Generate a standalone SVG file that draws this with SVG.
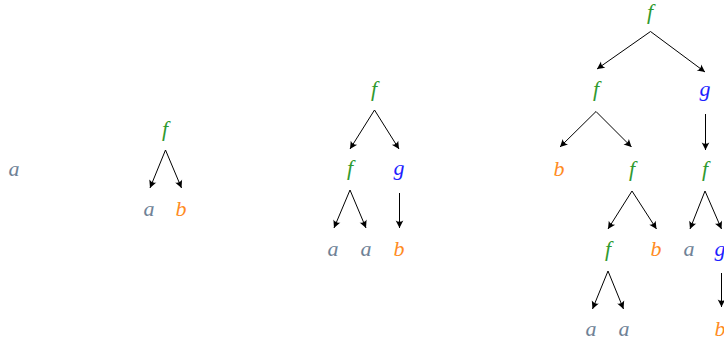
<svg xmlns="http://www.w3.org/2000/svg" width="724" height="341" viewBox="0 0 724 341">
<defs>
<marker id="ah" markerWidth="10" markerHeight="10" viewBox="-8 -5 9 10" refX="0" refY="0" orient="auto" markerUnits="userSpaceOnUse">
<path d="M0,0 L-7.5,-3.8 Q-4.8,0 -7.5,3.8 Z" fill="#000"/>
</marker>
<style>
.f{fill:#2f9a2f}.g{fill:#1f1fff}.b{fill:#ff8c1f}.a{fill:#6f8296}
#edges line{stroke:#000;stroke-width:1;marker-end:url(#ah)}
</style>
</defs>
<rect width="724" height="341" fill="#fff"/>
<g id="edges">
<line x1="165.5" y1="150" x2="150" y2="188"/>
<line x1="165.5" y1="150" x2="181.5" y2="188"/>
<line x1="374.5" y1="110" x2="350" y2="149"/>
<line x1="374.5" y1="110" x2="399" y2="149"/>
<line x1="350" y1="190" x2="334" y2="228"/>
<line x1="350" y1="190" x2="366" y2="228"/>
<line x1="399.5" y1="193" x2="399.5" y2="228"/>
<line x1="650.5" y1="31.5" x2="597" y2="69"/>
<line x1="650.5" y1="31.5" x2="705" y2="72"/>
<line x1="596" y1="111.5" x2="560" y2="147"/>
<line x1="596" y1="111.5" x2="631.5" y2="147"/>
<line x1="705.5" y1="114" x2="705.5" y2="150"/>
<line x1="632" y1="191" x2="608" y2="229"/>
<line x1="632" y1="191" x2="656.5" y2="229"/>
<line x1="705" y1="191" x2="690" y2="229"/>
<line x1="705" y1="191" x2="721.5" y2="229"/>
<line x1="608" y1="271" x2="592.5" y2="309"/>
<line x1="608" y1="271" x2="623.5" y2="309"/>
<line x1="721.5" y1="273" x2="721.5" y2="307"/>
</g>
<g font-family="Liberation Serif, DejaVu Serif, serif" font-style="italic" font-size="22" text-anchor="middle">
<g id="t1-a"><text class="a" x="14" y="176">a</text></g>
<g id="t2-f"><text class="f" x="165" y="136">f</text></g>
<g id="t2-a"><text class="a" x="149" y="216">a</text></g>
<g id="t2-b"><text class="b" x="181" y="216">b</text></g>
<g id="t3-f"><text class="f" x="374" y="96">f</text></g>
<g id="t3-f2"><text class="f" x="350" y="175">f</text></g>
<g id="t3-g"><text class="g" x="399" y="175">g</text></g>
<g id="t3-a1"><text class="a" x="333" y="256">a</text></g>
<g id="t3-a2"><text class="a" x="366" y="256">a</text></g>
<g id="t3-b"><text class="b" x="399" y="256">b</text></g>
<g id="t4-f"><text class="f" x="650" y="19">f</text></g>
<g id="t4-f1"><text class="f" x="596" y="96">f</text></g>
<g id="t4-g1"><text class="g" x="705" y="96">g</text></g>
<g id="t4-b1"><text class="b" x="559" y="176">b</text></g>
<g id="t4-f2"><text class="f" x="632" y="176">f</text></g>
<g id="t4-f3"><text class="f" x="705" y="176">f</text></g>
<g id="t4-f4"><text class="f" x="608" y="256">f</text></g>
<g id="t4-b2"><text class="b" x="656" y="256">b</text></g>
<g id="t4-a1"><text class="a" x="689" y="256">a</text></g>
<g id="t4-g2"><text class="g" x="720" y="256">g</text></g>
<g id="t4-a2"><text class="a" x="591" y="336">a</text></g>
<g id="t4-a3"><text class="a" x="624" y="336">a</text></g>
<g id="t4-b3"><text class="b" x="720" y="336">b</text></g>
</g>
</svg>
